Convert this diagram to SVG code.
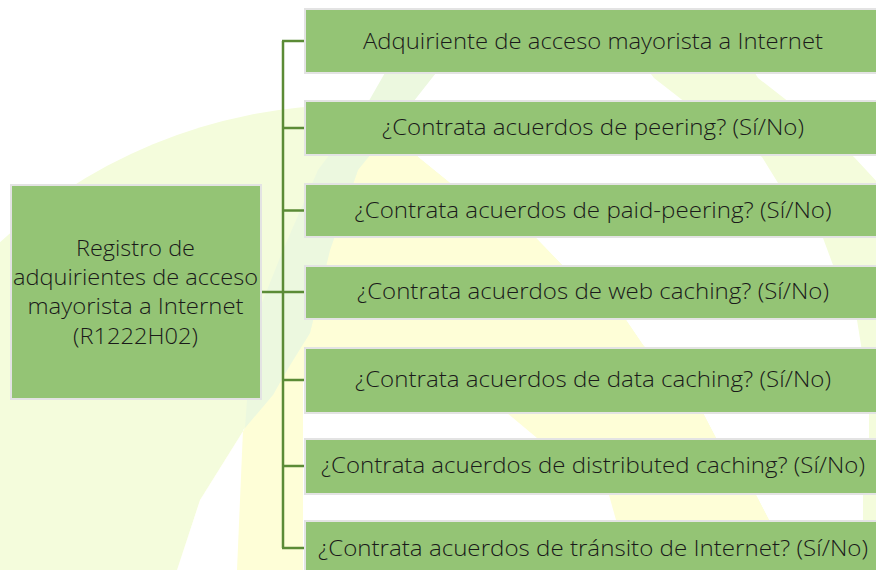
<svg xmlns="http://www.w3.org/2000/svg" width="876" height="570" viewBox="0 0 876 570">
<style>
.box{fill:#94c475;stroke:#e3e3e3;stroke-width:2}
.lbl{font-family:"Open Sans","Liberation Sans",sans-serif;font-weight:300;font-size:22px;fill:#1a1a1a;text-anchor:middle}
.conn{stroke:#5b8b36;stroke-width:2.5;fill:none}
</style>
<rect width="876" height="570" fill="#ffffff"/>
<g id="watermark">
<circle cx="350" cy="620" r="515" fill="#f4fcdc"/>
<polygon fill="#ffffff" points="380,40 625,40 654,78 690,106 762,157 778,183 823,238 833,265 857,320 861,345 869,413 869,438 863,495 863,570 790,570 769,520 756,495 716,438 703,413 643,345 626,320 562,265 536,238 450,183 418,157 390,115"/>
<polygon fill="#f4fcdc" points="625,40 735,40 758,78 794,106 854,157 880,185 880,570 863,570 863,495 869,438 869,413 861,345 857,320 833,265 823,238 778,183 762,157 690,106 654,78"/>
<polygon fill="#fefed7" points="390,115 418,157 450,183 536,238 562,265 626,320 643,345 703,413 716,438 756,495 769,520 790,570 177,570 200,500 245,428 275,390 310,333 330,250 358,170 372,140"/>
<polygon fill="#ecf8df" points="398,50 454,50 410,106 358,170 330,250 310,333 290,365 273,395 245,428 247,400 250,333 283,250 318,170 366,106 382,78"/>
<polygon fill="#ffffff" points="245,428 200,500 177,570 237,570 243,430"/>
<polygon fill="#ffffff" points="303,380 470,380 507,413 537,438 609,495 630,570 303,570"/>
</g>
<g id="connectors">
<line class="conn" x1="283" y1="41" x2="283" y2="548"/>
<line class="conn" x1="261" y1="292" x2="283" y2="292"/>
<line class="conn" x1="282" y1="41" x2="304" y2="41"/>
<line class="conn" x1="282" y1="128" x2="304" y2="128"/>
<line class="conn" x1="282" y1="210.5" x2="304" y2="210.5"/>
<line class="conn" x1="282" y1="292" x2="304" y2="292"/>
<line class="conn" x1="282" y1="380" x2="304" y2="380"/>
<line class="conn" x1="282" y1="466" x2="304" y2="466"/>
<line class="conn" x1="282" y1="548" x2="304" y2="548"/>
</g>
<g id="root">
<rect class="box" x="11" y="185" width="250" height="214"/>
<text class="lbl" x="135.5" y="256" textLength="119" lengthAdjust="spacingAndGlyphs">Registro de</text>
<text class="lbl" x="135.5" y="285" textLength="245" lengthAdjust="spacingAndGlyphs">adquirientes de acceso</text>
<text class="lbl" x="135.5" y="314" textLength="216" lengthAdjust="spacingAndGlyphs">mayorista a Internet</text>
<text class="lbl" x="135.5" y="344" textLength="125" lengthAdjust="spacingAndGlyphs">(R1222H02)</text>
</g>
<g id="n1">
<rect class="box" x="305" y="9" width="580" height="64"/>
<text class="lbl" x="593" y="48.5" textLength="460" lengthAdjust="spacingAndGlyphs">Adquiriente de acceso mayorista a Internet</text>
</g>
<g id="n2">
<rect class="box" x="305" y="101" width="580" height="54"/>
<text class="lbl" x="593" y="135" textLength="422" lengthAdjust="spacingAndGlyphs">¿Contrata acuerdos de peering? (Sí/No)</text>
</g>
<g id="n3">
<rect class="box" x="305" y="184" width="580" height="53"/>
<text class="lbl" x="593" y="218" textLength="477" lengthAdjust="spacingAndGlyphs">¿Contrata acuerdos de paid-peering? (Sí/No)</text>
</g>
<g id="n4">
<rect class="box" x="305" y="266" width="580" height="53"/>
<text class="lbl" x="593" y="299" textLength="472" lengthAdjust="spacingAndGlyphs">¿Contrata acuerdos de web caching? (Sí/No)</text>
</g>
<g id="n5">
<rect class="box" x="305" y="348" width="580" height="65"/>
<text class="lbl" x="593" y="387" textLength="476" lengthAdjust="spacingAndGlyphs">¿Contrata acuerdos de data caching? (Sí/No)</text>
</g>
<g id="n6">
<rect class="box" x="305" y="439" width="580" height="55"/>
<text class="lbl" x="593" y="473" textLength="544" lengthAdjust="spacingAndGlyphs">¿Contrata acuerdos de distributed caching? (Sí/No)</text>
</g>
<g id="n7">
<rect class="box" x="305" y="521" width="580" height="60"/>
<text class="lbl" x="593" y="556" textLength="550" lengthAdjust="spacingAndGlyphs">¿Contrata acuerdos de tránsito de Internet? (Sí/No)</text>
</g>
</svg>
